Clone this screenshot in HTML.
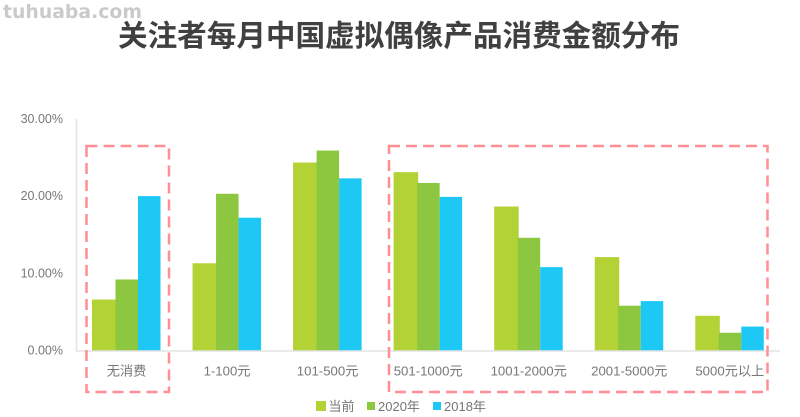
<!DOCTYPE html>
<html lang="zh">
<head>
<meta charset="utf-8">
<title>关注者每月中国虚拟偶像产品消费金额分布</title>
<style>
html,body{margin:0;padding:0;background:#fff;}
svg{display:block;}
text{font-family:"Liberation Sans","Noto Sans CJK SC",sans-serif;}
</style>
</head>
<body>
<svg id="chart" xmlns="http://www.w3.org/2000/svg" width="800" height="417" viewBox="0 0 800 417">
  <text x="3" y="18" font-size="19" font-weight="700" fill="#cacaca" textLength="139" lengthAdjust="spacingAndGlyphs" style="font-family:'DejaVu Sans',sans-serif">tuhuaba.com</text>
  <text x="399" y="46" text-anchor="middle" font-size="29.6" font-weight="700" fill="#404040" textLength="562" lengthAdjust="spacing">关注者每月中国虚拟偶像产品消费金额分布</text>
  <g id="plot" style="filter:blur(0.3px)"></g>
  <rect x="86.5" y="146" width="82.5" height="246" fill="none" stroke="#ff8f94" stroke-width="2.5" stroke-dasharray="11 6"/>
  <rect x="389" y="146" width="378.5" height="246" fill="none" stroke="#ff8f94" stroke-width="2.5" stroke-dasharray="11 6"/>
  <g>
    <g>
      <rect x="316" y="401" width="10" height="10" fill="#b2d235"/>
      <text x="328.5" y="411" font-size="13" fill="#757575">当前</text>
    </g>
    <g>
      <rect x="367" y="402" width="8" height="8" fill="#8dc63f"/>
      <text x="378" y="411" font-size="13" fill="#757575">2020年</text>
    </g>
    <g>
      <rect x="433" y="402" width="8" height="8" fill="#1dc8f5"/>
      <text x="444" y="411" font-size="13" fill="#757575">2018年</text>
    </g>
  </g>
</svg>
<script>
const categories = ['无消费', '1-100元', '101-500元', '501-1000元', '1001-2000元', '2001-5000元', '5000元以上'];
const seriesCurrent = [6.6, 11.3, 24.35, 23.1, 18.65, 12.1, 4.5];
const series2020 = [9.2, 20.3, 25.9, 21.7, 14.6, 5.8, 2.3];
const series2018 = [20.0, 17.2, 22.3, 19.9, 10.8, 6.4, 3.1];
const yTicks = [0, 10, 20, 30];

const svgNS = 'http://www.w3.org/2000/svg';
const plot = document.getElementById('plot');
const y0 = 350.5;
const pxPerUnit = 7.72;
const firstGroupX = 92;
const groupPitch = 100.55;
const yScale = v => y0 - v * pxPerUnit;
const groupX = i => firstGroupX + i * groupPitch;

function make(tag, attrs) {
  const el = document.createElementNS(svgNS, tag);
  for (const k in attrs) el.setAttribute(k, attrs[k]);
  return el;
}

yTicks.forEach(t => {
  const label = make('text', {x: 63, y: yScale(t) + 4, 'text-anchor': 'end', 'font-size': 12.5, fill: '#777777'});
  
  
  label.textContent = t.toFixed(2) + '%';
  plot.appendChild(label);
});

const series = [
  {key: 'current', values: seriesCurrent, color: '#b2d235', dx: 0, w: 24.5},
  {key: '2020', values: series2020, color: '#8dc63f', dx: 23.5, w: 22.5},
  {key: '2018', values: series2018, color: '#1dc8f5', dx: 46, w: 22.5}
];
series.forEach(s => {
  s.values.forEach((v, i) => {
    const bar = make('rect', {x: groupX(i) + s.dx, y: yScale(v), width: s.w, height: y0 - yScale(v), fill: s.color});
    
    
    plot.appendChild(bar);
  });
});

const yAxis = make('line', {x1: 76.5, y1: yScale(yTicks[yTicks.length - 1]), x2: 76.5, y2: y0 + 1, stroke: '#e3e3e3', 'stroke-width': 1.5});


plot.appendChild(yAxis);

const xAxis = make('line', {x1: 76, y1: y0 + 0.5, x2: 780, y2: y0 + 0.5, stroke: '#e3e3e3', 'stroke-width': 1.5});


plot.appendChild(xAxis);

categories.forEach((c, i) => {
  const label = make('text', {x: groupX(i) + 34.5, y: 375.5, 'text-anchor': 'middle', 'font-size': 13.2, fill: '#777777'});
  
  
  label.textContent = c;
  plot.appendChild(label);
});
</script>
</body>
</html>
